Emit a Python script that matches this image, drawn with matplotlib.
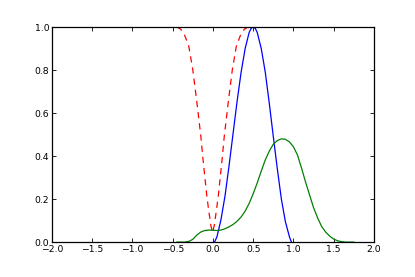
import numpy as np
import matplotlib
matplotlib.use("Agg")
import matplotlib.pyplot as plt

# blue peak
blue_x = [0.02, 0.05, 0.1, 0.15, 0.2, 0.25, 0.3, 0.35, 0.4, 0.45, 0.475, 0.5,
          0.525, 0.55, 0.6, 0.65, 0.7, 0.75, 0.8, 0.85, 0.9, 0.95, 0.975]
blue_y = [0.0, 0.025, 0.105, 0.215, 0.355, 0.505, 0.655, 0.79, 0.9, 0.975, 0.994, 1.0,
          0.994, 0.975, 0.9, 0.79, 0.645, 0.49, 0.34, 0.2, 0.095, 0.025, 0.0]

# red dashed dip
red_x = [-0.45, -0.4, -0.35, -0.3, -0.25, -0.2, -0.15, -0.125, -0.1, -0.075,
         -0.05, -0.025, -0.005, 0.015, 0.04, 0.065, 0.09, 0.115, 0.14,
         0.19, 0.24, 0.29, 0.34, 0.39, 0.44]
red_y = [1.0, 0.99, 0.96, 0.91, 0.80, 0.65, 0.49, 0.39, 0.30, 0.21,
         0.14, 0.075, 0.045, 0.075, 0.14, 0.21, 0.30, 0.39, 0.49,
         0.65, 0.80, 0.91, 0.96, 0.99, 1.0]

# green density
green_x = [-0.45, -0.35, -0.3, -0.25, -0.2, -0.15, -0.1, -0.05, 0.0, 0.05,
           0.1, 0.15, 0.2, 0.25, 0.3, 0.35, 0.4, 0.45, 0.5, 0.55,
           0.6, 0.65, 0.7, 0.75, 0.8, 0.85, 0.9, 0.95, 1.0, 1.05,
           1.1, 1.15, 1.2, 1.25, 1.3, 1.35, 1.4, 1.45, 1.5, 1.55,
           1.6, 1.65, 1.75]
green_y = [0.0, 0.0, 0.003, 0.013, 0.033, 0.047, 0.054, 0.056, 0.055, 0.054,
           0.056, 0.062, 0.071, 0.082, 0.097, 0.117, 0.144, 0.18, 0.225, 0.275,
           0.33, 0.382, 0.423, 0.455, 0.472, 0.48, 0.478, 0.466, 0.443, 0.405,
           0.345, 0.28, 0.22, 0.16, 0.113, 0.073, 0.047, 0.028, 0.014, 0.006,
           0.002, 0.0, 0.0]

xticks = [-2.0, -1.5, -1.0, -0.5, 0.0, 0.5, 1.0, 1.5, 2.0]
yticks = [0.0, 0.2, 0.4, 0.6, 0.8, 1.0]

plt.rcParams['font.family'] = ['DejaVu Sans']
plt.rcParams['font.size'] = 6.7

fig, ax = plt.subplots(figsize=(4.15, 2.77), dpi=100)
fig.subplots_adjust(left=0.1253, right=0.901, bottom=0.126, top=0.9025)

ax.plot(blue_x, blue_y, color='blue', lw=0.9)
ax.plot(red_x, red_y, color='red', lw=0.9, linestyle='--', dashes=(5, 4))
ax.plot(green_x, green_y, color='green', lw=0.9)

ax.set_xlim(-2, 2)
ax.set_ylim(0, 1)
ax.set_xticks(xticks)
ax.set_yticks(yticks)
ax.set_xticklabels(['%.1f' % t if t >= 0 else '\u2212%.1f' % -t for t in xticks])
ax.set_yticklabels(['%.1f' % t for t in yticks])
ax.tick_params(direction='in', top=True, right=True, length=3, width=0.6,
               pad=2, labelsize=6.7)
for s in ax.spines.values():
    s.set_linewidth(0.9)

fig.savefig('out.png', dpi=100)
